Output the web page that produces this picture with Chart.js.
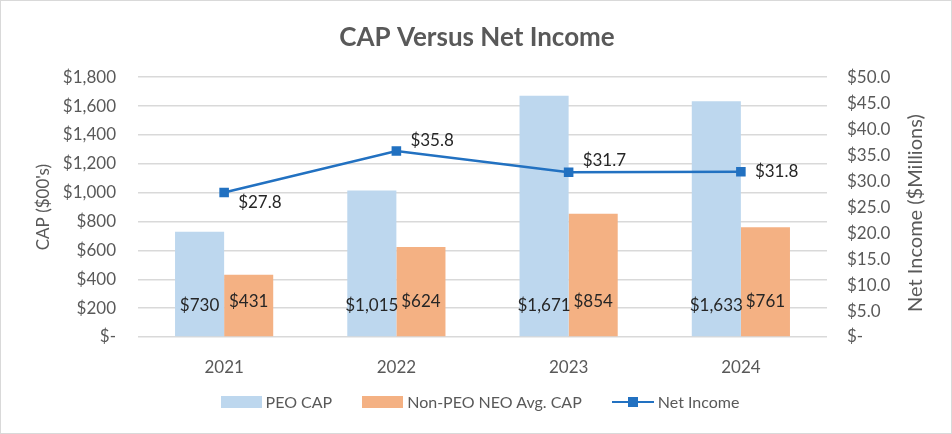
<!DOCTYPE html>
<html>
<head>
<meta charset="utf-8">
<script src="https://cdn.jsdelivr.net/npm/chart.js@4/dist/chart.umd.min.js"></script>
<style>
  body { margin: 0; background: #fff; }
  #wrap { position: relative; width: 952px; height: 434px; box-sizing: border-box; border: 1px solid #d9d9d9; }
  canvas { position: absolute; left: 0; top: 0; }
  #legend { position: absolute; left: 3px; width: 952px; top: 391px; display: flex; justify-content: center; font-family: Lato, sans-serif; font-size: 16px; color: #595959; }
  .item { display: flex; align-items: center; margin: 0 15px; }
  .sw { width: 41px; height: 12px; margin-right: 4px; }
  .ln { position: relative; width: 42px; height: 2px; background: #2271c1; margin-right: 4px; }
  .ln span { position: absolute; left: 16px; top: -4px; width: 10px; height: 10px; background: #2271c1; }
</style>
</head>
<body>
<div id="wrap">
  <canvas id="chart" width="952" height="434"></canvas>
  <div id="legend">
    <div class="item"><div class="sw" style="background:#bdd7ee"></div>PEO CAP</div>
    <div class="item"><div class="sw" style="background:#f4b183"></div>Non-PEO NEO Avg. CAP</div>
    <div class="item"><div class="ln"><span></span></div>Net Income</div>
  </div>
</div>
<script>
// values
const years = ["2021", "2022", "2023", "2024"];
const peoCap = [730, 1015, 1671, 1633];
const nonPeoCap = [431, 624, 854, 761];
const netIncome = [27.8, 35.8, 31.7, 31.8];

const money = (v) => "$" + v.toLocaleString("en-US");

// value labels, drawn after the datasets
const valueLabels = {
  id: "valueLabels",
  afterDatasetsDraw(chart) {
    const ctx = chart.ctx;
    const base = chart.scales.y.getPixelForValue(0);
    ctx.save();
    ctx.font = "17px Lato, sans-serif";
    ctx.fillStyle = "#262626";
    ctx.textAlign = "center";
    ctx.textBaseline = "middle";
    [1, 2].forEach((di, k) => {
      chart.getDatasetMeta(di).data.forEach((bar, i) => {
        const v = chart.data.datasets[di].data[i];
        ctx.fillText(money(v), bar.x, base - (k === 0 ? 31 : 35));
      });
    });
    // net income labels sit to the right of each point
    const dy = [10, -10, -12, 0];
    ctx.textAlign = "left";
    chart.getDatasetMeta(0).data.forEach((pt, i) => {
      ctx.fillText("$" + netIncome[i].toFixed(1), pt.x + 14, pt.y + dy[i]);
    });
    ctx.restore();
  },
  // right axis title reads bottom-to-top like the left one
  afterDraw(chart) {
    const ctx = chart.ctx;
    const a = chart.chartArea;
    ctx.save();
    ctx.translate(915, (a.top + a.bottom) / 2 + 6);
    ctx.rotate(-Math.PI / 2);
    ctx.font = "20px Lato, sans-serif";
    ctx.fillStyle = "#595959";
    ctx.textAlign = "center";
    ctx.textBaseline = "middle";
    ctx.fillText("Net Income ($Millions)", 0, 0);
    ctx.restore();
  }
};

new Chart(document.getElementById("chart").getContext("2d"), {
  type: "bar",
  data: {
    labels: years,
    datasets: [
      {
        type: "line",
        label: "Net Income",
        data: netIncome,
        yAxisID: "y1",
        borderColor: "#2271c1",
        backgroundColor: "#2271c1",
        borderWidth: 2.5,
        pointStyle: "rect",
        pointRadius: 5,
        order: 0,
      },
      {
        label: "PEO CAP",
        data: peoCap,
        backgroundColor: "#bdd7ee",
        categoryPercentage: 0.57,
        barPercentage: 1,
        order: 1,
      },
      {
        label: "Non-PEO NEO Avg. CAP",
        data: nonPeoCap,
        backgroundColor: "#f4b183",
        categoryPercentage: 0.57,
        barPercentage: 1,
        order: 1,
      },
    ],
  },
  options: {
    responsive: false,
    animation: false,
    layout: { padding: 0 },
    plugins: {
      legend: { display: false },
      tooltip: { enabled: false },
      title: {
        display: true,
        text: "CAP Versus Net Income",
        color: "#595959",
        font: { family: "Lato, sans-serif", size: 26, weight: "bold" },
        padding: { top: 21, bottom: 24 },
      },
    },
    scales: {
      x: {
        grid: { display: false },
        border: { display: false },
        ticks: { color: "#595959", font: { family: "Lato, sans-serif", size: 17 }, padding: 12 },
        afterFit: (s) => { s.height = 98; },
      },
      y: {
        position: "left",
        min: 0,
        max: 1800,
        ticks: {
          stepSize: 200,
          padding: 22,
          color: "#595959",
          font: { family: "Lato, sans-serif", size: 17 },
          callback: (v) => (v === 0 ? "$-" : money(v)),
        },
        grid: { color: "#d9d9d9", lineWidth: 1.5, drawTicks: false },
        border: { display: false },
        title: {
          display: true,
          text: "CAP ($00's)",
          color: "#595959",
          font: { family: "Lato, sans-serif", size: 17 },
          padding: { top: 32, bottom: 0 },
        },
        afterFit: (s) => { s.width = 137; },
      },
      y1: {
        position: "right",
        min: 0,
        max: 50,
        ticks: {
          stepSize: 5,
          padding: 20,
          color: "#595959",
          font: { family: "Lato, sans-serif", size: 17 },
          callback: (v) => (v === 0 ? "$-" : "$" + v.toFixed(1)),
        },
        grid: { display: false, drawTicks: false },
        border: { display: false },
        afterFit: (s) => { s.width = 126; },
      },
    },
  },
  plugins: [valueLabels],
});
</script>
</body>
</html>
